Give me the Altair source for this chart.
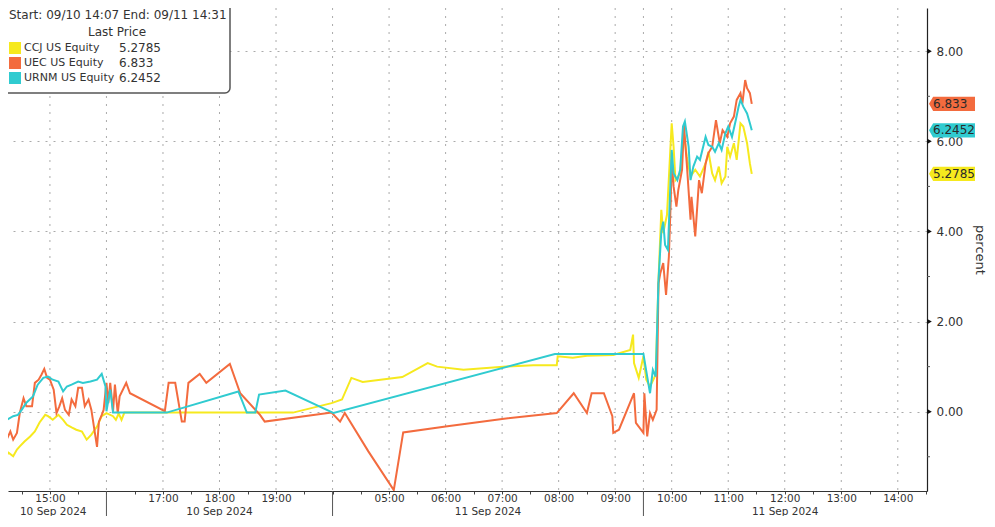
import altair as alt
import pandas as pd

FONT = "DejaVu Sans"
START = "09/10 14:07"
END = "09/11 14:31"

SERIES = ["CCJ US Equity", "UEC US Equity", "URNM US Equity"]
LAST_PRICE = ["5.2785", "6.833", "6.2452"]
COLORS = ["#f6e91e", "#f36b3e", "#30cbd0"]

CCJ_TIME = ["09/10 14:07", "09/10 14:12", "09/10 14:16", "09/10 14:21", "09/10 14:25", "09/10 14:28", "09/10 14:33",
            "09/10 14:39", "09/10 14:44", "09/10 14:49", "09/10 14:55", "09/10 14:58", "09/10 15:03", "09/10 15:09",
            "09/10 15:14", "09/10 15:18", "09/10 15:23", "09/10 15:28", "09/10 15:34", "09/10 15:39", "09/10 15:44",
            "09/10 15:50", "09/10 15:55", "09/10 16:00", "09/10 16:07", "09/10 16:10", "09/10 16:13", "09/10 16:16",
            "09/10 16:19", "09/10 19:18", "09/10 19:59",
            "09/11 04:10", "09/11 04:20", "09/11 04:32", "09/11 05:14", "09/11 05:41", "09/11 05:51", "09/11 06:19",
            "09/11 07:01", "09/11 07:33", "09/11 07:58", "09/11 07:59", "09/11 08:15", "09/11 08:30", "09/11 08:58",
            "09/11 09:16", "09/11 09:19", "09/11 09:20", "09/11 09:25", "09/11 09:30", "09/11 09:33", "09/11 09:37",
            "09/11 09:43", "09/11 09:46", "09/11 09:49", "09/11 09:51", "09/11 09:55", "09/11 10:00", "09/11 10:02",
            "09/11 10:04", "09/11 10:09", "09/11 10:13", "09/11 10:16", "09/11 10:20", "09/11 10:25", "09/11 10:30",
            "09/11 10:36", "09/11 10:39", "09/11 10:43", "09/11 10:46", "09/11 10:50", "09/11 10:53", "09/11 10:57",
            "09/11 10:59", "09/11 11:02", "09/11 11:06", "09/11 11:09", "09/11 11:13", "09/11 11:16", "09/11 11:20",
            "09/11 11:23", "09/11 11:25"]
CCJ_PCT = [-0.99, -1.02, -0.91, -0.99, -0.84, -0.77, -0.66,
           -0.55, -0.44, -0.24, -0.07, -0.10, -0.18, -0.07,
           -0.18, -0.29, -0.35, -0.40, -0.44, -0.62, -0.51,
           -0.33, -0.10, -0.03, -0.10, -0.18, -0.04, -0.18,
           -0.02, -0.02, 0.19,
           0.27, 0.75, 0.66, 0.77, 1.08, 1.00, 0.93,
           1.00, 1.03, 1.03, 1.23, 1.20, 1.24, 1.26,
           1.37, 1.71, 1.08, 0.75, 1.23, 0.71, 0.56,
           0.82, 2.93, 4.48, 3.96, 4.37, 6.40, 5.88,
           5.14, 5.29, 6.18, 5.66, 5.22, 5.37, 5.22,
           5.51, 5.77, 5.29, 5.14, 5.44, 5.07, 5.22,
           5.88, 5.66, 5.96, 5.59, 6.40, 6.33, 5.96,
           5.51, 5.2785]

UEC_TIME = ["09/10 14:07", "09/10 14:11", "09/10 14:14", "09/10 14:18", "09/10 14:21", "09/10 14:25", "09/10 14:28",
            "09/10 14:32", "09/10 14:35", "09/10 14:41", "09/10 14:44", "09/10 14:48", "09/10 14:51", "09/10 14:54",
            "09/10 14:57", "09/10 15:00", "09/10 15:04", "09/10 15:07", "09/10 15:10", "09/10 15:13", "09/10 15:16",
            "09/10 15:20", "09/10 15:23", "09/10 15:27", "09/10 15:30", "09/10 15:34", "09/10 15:37", "09/10 15:41",
            "09/10 15:44", "09/10 15:48", "09/10 15:50", "09/10 15:52", "09/10 15:55", "09/10 15:57", "09/10 16:00",
            "09/10 16:02", "09/10 16:04", "09/10 16:07", "09/10 16:09", "09/10 16:12", "09/10 16:14", "09/10 16:21",
            "09/10 16:25", "09/10 17:02", "09/10 17:06", "09/10 17:13", "09/10 17:20", "09/10 17:23", "09/10 17:27",
            "09/10 17:39", "09/10 17:46", "09/10 18:11", "09/10 18:22", "09/10 18:43", "09/10 18:48", "09/10 19:59",
            "09/11 04:08", "09/11 04:13", "09/11 04:38", "09/11 05:05", "09/11 05:15", "09/11 06:00", "09/11 07:00",
            "09/11 07:58", "09/11 08:16", "09/11 08:30", "09/11 08:35", "09/11 08:48", "09/11 08:57", "09/11 08:58",
            "09/11 09:04", "09/11 09:20", "09/11 09:22", "09/11 09:30", "09/11 09:31", "09/11 09:34", "09/11 09:37",
            "09/11 09:40", "09/11 09:44", "09/11 09:46", "09/11 09:48", "09/11 09:51", "09/11 09:54", "09/11 09:57",
            "09/11 09:59", "09/11 10:00", "09/11 10:02", "09/11 10:05", "09/11 10:07", "09/11 10:11", "09/11 10:13",
            "09/11 10:16", "09/11 10:20", "09/11 10:21", "09/11 10:25", "09/11 10:29", "09/11 10:32", "09/11 10:36",
            "09/11 10:39", "09/11 10:43", "09/11 10:47", "09/11 10:51", "09/11 10:54", "09/11 10:59", "09/11 11:02",
            "09/11 11:06", "09/11 11:09", "09/11 11:13", "09/11 11:15", "09/11 11:18", "09/11 11:20", "09/11 11:23",
            "09/11 11:25"]
UEC_PCT = [-0.77, -0.88, -0.62, -0.44, -0.62, -0.47, -0.03,
           0.30, 0.12, 0.12, 0.64, 0.71, 0.82, 0.95,
           0.75, 0.71, 0.49, -0.03, 0.12, 0.30, 0.04,
           -0.07, 0.27, 0.12, 0.53, 0.53, 0.12, 0.27,
           0.04, -0.51, -0.78, -0.22, -0.07, 0.04, 0.64,
           0.19, 0.64, 0.01, 0.60, -0.03, 0.34, 0.64,
           0.41, 0.01, 0.64, 0.64, -0.22, -0.22, 0.64,
           0.84, 0.64, 1.06, 0.41, -0.07, -0.22, -0.02,
           -0.22, -0.03, -0.88, -1.74, -0.46, -0.33, -0.16,
           -0.03, 0.41, -0.03, 0.41, 0.41, -0.10, -0.47,
           -0.40, 0.41, -0.25, -0.47, 0.41, -0.55, -0.03,
           -0.18, 0.04, 2.85, 3.08, 3.30, 2.59, 3.44,
           4.70, 5.59, 5.00, 4.55, 4.92, 5.37, 6.36,
           5.51, 4.26, 4.77, 3.89, 5.14, 4.85, 5.51,
           5.74, 5.88, 6.47, 5.96, 6.25, 6.10, 6.40,
           6.55, 6.92, 7.07, 6.84, 7.36, 7.18, 7.07,
           6.833]

URNM_TIME = ["09/10 14:07", "09/10 14:14", "09/10 14:21", "09/10 14:26", "09/10 14:30", "09/10 14:35", "09/10 14:42",
             "09/10 14:47", "09/10 14:53", "09/10 14:58", "09/10 15:03", "09/10 15:09", "09/10 15:14", "09/10 15:18",
             "09/10 15:23", "09/10 15:30", "09/10 15:35", "09/10 15:43", "09/10 15:50", "09/10 15:55", "09/10 15:59",
             "09/10 16:00", "09/10 16:04", "09/10 16:07", "09/10 17:04", "09/10 18:20", "09/10 18:29", "09/10 18:38",
             "09/10 18:42", "09/10 19:10", "09/10 19:59",
             "09/11 04:01", "09/11 07:56", "09/11 09:30", "09/11 09:34", "09/11 09:37", "09/11 09:40", "09/11 09:43",
             "09/11 09:44", "09/11 09:46", "09/11 09:49", "09/11 09:51", "09/11 09:53", "09/11 09:56", "09/11 09:58",
             "09/11 10:00", "09/11 10:02", "09/11 10:06", "09/11 10:09", "09/11 10:12", "09/11 10:14", "09/11 10:18",
             "09/11 10:20", "09/11 10:23", "09/11 10:27", "09/11 10:30", "09/11 10:36", "09/11 10:39", "09/11 10:43",
             "09/11 10:46", "09/11 10:50", "09/11 10:53", "09/11 10:57", "09/11 11:00", "09/11 11:04", "09/11 11:08",
             "09/11 11:11", "09/11 11:13", "09/11 11:16", "09/11 11:20", "09/11 11:23", "09/11 11:25"]
URNM_PCT = [-0.22, -0.18, -0.10, -0.07, 0.04, 0.20, 0.34,
            0.60, 0.75, 0.78, 0.71, 0.67, 0.45, 0.56,
            0.60, 0.67, 0.64, 0.67, 0.71, 0.84, 0.56,
            0.01, 0.49, -0.02, -0.02, 0.45, -0.02, -0.02,
            0.38, 0.47, -0.01,
            -0.03, 1.28, 1.28, 0.78, 0.41, 0.93, 0.78,
            1.45, 2.93, 4.00, 4.22, 3.70, 3.59, 4.70,
            5.81, 5.29, 5.14, 5.37, 6.33, 6.44, 5.88,
            5.14, 5.44, 5.66, 5.59, 6.10, 5.92, 5.88,
            5.77, 5.96, 5.81, 6.18, 6.33, 6.10, 6.47,
            6.77, 6.92, 6.77, 6.62, 6.40, 6.2452]

Y_TICKS = [0, 2, 4, 6, 8]
Y_MINOR = [-1, 1, 3, 5, 7]
HOUR_LABELS = ["09/10 15:00", "09/10 17:00", "09/10 18:00", "09/10 19:00",
               "09/11 05:00", "09/11 06:00", "09/11 07:00", "09/11 08:00", "09/11 09:00",
               "09/11 10:00", "09/11 11:00", "09/11 12:00", "09/11 13:00", "09/11 14:00"]
HOUR_GRID = ["09/10 15:00", "09/10 16:00", "09/10 17:00", "09/10 18:00", "09/10 19:00", "09/10 20:00",
             "09/11 05:00", "09/11 06:00", "09/11 07:00", "09/11 08:00", "09/11 09:00", "09/11 09:30",
             "09/11 10:00", "09/11 11:00", "09/11 12:00", "09/11 13:00", "09/11 14:00"]
SESSION_BOUNDS = [START, "09/10 16:00", "09/10 20:00", "09/11 09:30", END]
DATE_LABELS = ["10 Sep 2024", "10 Sep 2024", "11 Sep 2024", "11 Sep 2024"]


def session_minutes(stamp):
    day, hm = stamp.split()
    h, m = (int(p) for p in hm.split(":"))
    mins = h * 60 + m
    if day == "09/10":
        return mins - (14 * 60 + 7)
    return (20 * 60 - (14 * 60 + 7)) + mins - 4 * 60


W, H = 919, 483
PAD_R, PAD_B = 60, 25
X_DOMAIN = [8.5, session_minutes(END)]
Y_DOMAIN = [-1.76, 8.96]
xs = alt.Scale(domain=X_DOMAIN, nice=False, zero=False)
ys = alt.Scale(domain=Y_DOMAIN, nice=False, zero=False)

half_ticks = []
for h in range(14, 21):
    for m in (0, 30):
        if 14 * 60 + 7 < h * 60 + m <= 20 * 60:
            half_ticks.append(session_minutes(f"09/10 {h:02d}:{m:02d}"))
for h in range(4, 15):
    for m in (0, 30):
        if 4 * 60 < h * 60 + m <= 14 * 60 + 31:
            half_ticks.append(session_minutes(f"09/11 {h:02d}:{m:02d}"))

label_expr = "''"
for stamp in reversed(HOUR_LABELS):
    label_expr = f"datum.value == {session_minutes(stamp)} ? '{stamp.split()[1]}' : " + label_expr

X_AXIS = alt.Axis(values=half_ticks, labelExpr=label_expr, grid=False, tickSize=3, tickColor="#444",
                  domainColor="#333", domainWidth=1, labelFont=FONT, labelFontSize=10.5, labelColor="#333",
                  labelPadding=-1, labelOverlap=False, labelFlush=False, title=None)
Y_AXIS = alt.Axis(orient="right", values=Y_TICKS, format=".2f", grid=True, gridDash=[2, 6], gridColor="#aaaaaa",
                  ticks=False, domainColor="#222", domainWidth=1.2, labelFont=FONT, labelFontSize=12,
                  labelColor="#333", labelPadding=9, title="percent", titleFont=FONT, titleFontSize=13,
                  titleFontWeight="normal", titleColor="#333", titlePadding=10)


def X(field):
    return alt.X(field, scale=xs, axis=X_AXIS, title=None)


def Y(field):
    return alt.Y(field, scale=ys, axis=Y_AXIS, title="percent")


one = pd.DataFrame({"k": [0]})

vgrid = alt.Chart(pd.DataFrame({"t": [session_minutes(s) for s in HOUR_GRID]})).mark_rule(
    color="#aaaaaa", strokeDash=[2, 6], strokeWidth=1).encode(x=X("t:Q"))


def line_layer(times, vals, color):
    df = pd.DataFrame({"t": [session_minutes(s) for s in times], "pct": vals})
    return alt.Chart(df).mark_line(color=color, strokeWidth=2, clip=True).encode(x=X("t:Q"), y=Y("pct:Q"))


l_ccj = line_layer(CCJ_TIME, CCJ_PCT, COLORS[0])
l_uec = line_layer(UEC_TIME, UEC_PCT, COLORS[1])
l_urnm = line_layer(URNM_TIME, URNM_PCT, COLORS[2])

major = alt.Chart(pd.DataFrame({"pct": Y_TICKS})).mark_point(
    shape="triangle-right", filled=True, color="#111", size=28, opacity=1).encode(
    x=alt.value(W + 2.5), y=Y("pct:Q"))
minor = alt.Chart(pd.DataFrame({"pct": Y_MINOR})).mark_rule(color="#555", strokeWidth=1).encode(
    x=alt.value(W), x2=alt.value(W + 3), y=Y("pct:Q"))

tags_df = pd.DataFrame({"pct": [float(s) for s in LAST_PRICE], "lab": LAST_PRICE, "col": COLORS})
tag_shape = "M -1 0 L -0.82 -0.31 L 1 -0.31 L 1 0.31 L -0.82 0.31 Z"
tags = alt.Chart(tags_df).mark_point(shape=tag_shape, filled=True, size=2116, opacity=1, strokeWidth=0).encode(
    x=alt.value(W + 25), y=Y("pct:Q"), color=alt.Color("col:N", scale=None))
tag_txt = alt.Chart(tags_df).mark_text(align="left", baseline="middle", font=FONT, fontSize=12,
                                        color="#2a2a2a").encode(
    x=alt.value(W + 6), y=Y("pct:Q"), text="lab:N")

bounds = [session_minutes(s) for s in SESSION_BOUNDS]
seps = alt.Chart(pd.DataFrame({"t": bounds[1:-1]})).mark_rule(color="#555", strokeWidth=1).encode(
    x=X("t:Q"), y=alt.value(H), y2=alt.value(H + PAD_B))
date_df = pd.DataFrame({"t": [(a + b) / 2 for a, b in zip(bounds[:-1], bounds[1:])], "lab": DATE_LABELS})
dates = alt.Chart(date_df).mark_text(align="center", baseline="alphabetic", font=FONT, fontSize=10.5,
                                     color="#333").encode(
    x=X("t:Q"), y=alt.value(H + 24), text="lab:N")

legend_layers = [
    alt.Chart(one).mark_rect(fill="white", stroke="#555", strokeWidth=1.5, cornerRadius=5).encode(
        x=alt.value(-4), x2=alt.value(222), y=alt.value(-6), y2=alt.value(85)),
    alt.Chart(one).mark_text(align="left", baseline="middle", font=FONT, fontSize=12, color="#333").encode(
        x=alt.value(1), y=alt.value(7), text=alt.value(f"Start: {START} End: {END}")),
    alt.Chart(one).mark_text(align="center", baseline="middle", font=FONT, fontSize=12, color="#333").encode(
        x=alt.value(109), y=alt.value(24), text=alt.value("Last Price")),
]
for i, (name, last, col) in enumerate(zip(SERIES, LAST_PRICE, COLORS)):
    yy = 40 + 15 * i
    legend_layers += [
        alt.Chart(one).mark_rect(fill=col).encode(
            x=alt.value(1), x2=alt.value(13), y=alt.value(yy - 6), y2=alt.value(yy + 6)),
        alt.Chart(one).mark_text(align="left", baseline="middle", font=FONT, fontSize=11, color="#333").encode(
            x=alt.value(16), y=alt.value(yy), text=alt.value(name)),
        alt.Chart(one).mark_text(align="left", baseline="middle", font=FONT, fontSize=12, color="#333").encode(
            x=alt.value(111), y=alt.value(yy), text=alt.value(last)),
    ]

chart = alt.layer(
    vgrid, l_ccj, l_uec, l_urnm, minor, major, tags, tag_txt, seps, dates, *legend_layers
).properties(
    width=W, height=H,
    autosize=alt.AutoSizeParams(type="none"),
    padding={"left": 0, "top": 0, "right": PAD_R, "bottom": PAD_B},
    background="white",
).configure_view(stroke=None)

chart.save("out.html", embed_options={"renderer": "svg", "actions": False})
